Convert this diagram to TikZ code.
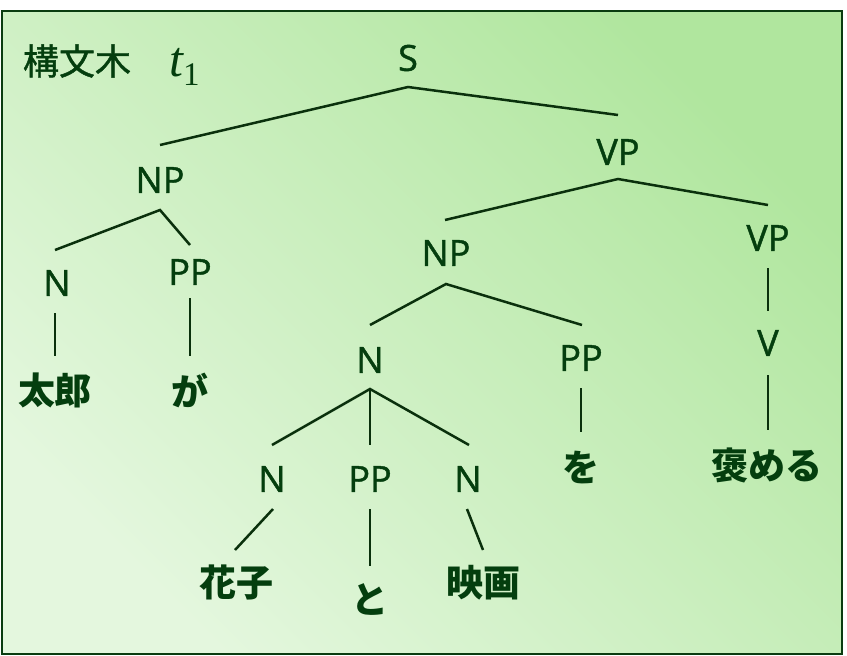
\documentclass[tikz,border=0pt]{standalone}
\usepackage{fontspec}
\setmainfont{Open Sans}
\newfontfamily\labfont{Open Sans}[FakeBold=1.2]
\newfontfamily\jpfont{Noto Sans CJK JP}
\newfontfamily\jptitle{Noto Sans CJK JP}[FakeBold=1.2]
\newfontfamily\serifit{Liberation Serif}
\definecolor{txt}{RGB}{4,62,14}
\definecolor{ln}{RGB}{10,48,12}
\definecolor{framec}{RGB}{10,60,16}
\definecolor{bgdark}{RGB}{176,230,158}
\definecolor{bglight}{RGB}{228,247,222}
\begin{document}
\begin{tikzpicture}[x=1pt,y=-1pt,
  lab/.style={text=txt,font=\labfont\fontsize{36}{40}\selectfont,inner sep=0pt},
  word/.style={text=txt,font=\jpfont\bfseries\fontsize{37}{40}\selectfont,inner sep=0pt},
  edgeline/.style={draw=ln,line width=2.5pt}]
\useasboundingbox (0,0) rectangle (847,656);
\shade[shading=axis, top color=bgdark, bottom color=bglight, shading angle=-45] (2,11) rectangle (842,654);
\draw[framec, line width=2.5pt] (2,11) rectangle (842,654);

% title
\node[text=txt,font=\jptitle\fontsize{36}{40}\selectfont,inner sep=0pt] (title) at (77,61) {構文木};
\node[text=txt,inner sep=0pt,anchor=base west] (tone) at (169,76) {\serifit\itshape\fontsize{50}{54}\selectfont t\raisebox{-9pt}{\upshape\fontsize{33}{36}\selectfont 1}};

% labels
\node[lab] (S) at (408,58) {S};
\node[lab] (NP1) at (160,180) {NP};
\node[lab] (VP1) at (618,152) {VP};
\node[lab] (N1) at (57,283) {N};
\node[lab] (PP1) at (190,272) {PP};
\node[lab] (NP2) at (446,253) {NP};
\node[lab] (VP2) at (768,238) {VP};
\node[lab] (N2) at (370,360) {N};
\node[lab] (PP2) at (581,358) {PP};
\node[lab] (V) at (768,343) {V};
\node[lab] (N3) at (272,479) {N};
\node[lab] (PP3) at (370,479) {PP};
\node[lab] (N4) at (468,479) {N};

% words
\node[word] (taro) at (55,390) {太郎};
\node[word] (ga) at (190,390) {が};
\node[word] (wo) at (581,468) {を};
\node[word] (homeru) at (767,465) {褒める};
\node[word] (hanako) at (236,583) {花子};
\node[word] (to) at (370,600) {と};
\node[word] (eiga) at (483,583) {映画};

% connector end points
\coordinate (S-a) at (408,87);
\coordinate (NP1-t) at (160,145);
\coordinate (VP1-t) at (618,115);
\coordinate (NP1-a) at (160,210);
\coordinate (N1-t) at (55,250);
\coordinate (PP1-t) at (190,245);
\coordinate (VP1-a) at (618,179);
\coordinate (NP2-t) at (445,220);
\coordinate (VP2-t) at (768,205);
\coordinate (N1-b) at (55,313);
\coordinate (taro-t) at (55,356);
\coordinate (PP1-b) at (190,298);
\coordinate (ga-t) at (190,356);
\coordinate (NP2-a) at (446,284);
\coordinate (N2-t) at (370,325);
\coordinate (PP2-t) at (582,325);
\coordinate (VP2-b) at (768,268);
\coordinate (V-t) at (768,311);
\coordinate (N2-a) at (370,389);
\coordinate (N3-t) at (272,445);
\coordinate (PP3-t) at (370,445);
\coordinate (N4-t) at (469,445);
\coordinate (PP2-b) at (581,388);
\coordinate (wo-t) at (581,432);
\coordinate (V-b) at (768,375);
\coordinate (homeru-t) at (768,430);
\coordinate (N3-b) at (273,509);
\coordinate (hanako-t) at (235,550);
\coordinate (PP3-b) at (370,509);
\coordinate (to-t) at (370,566);
\coordinate (N4-b) at (467,509);
\coordinate (eiga-t) at (483,550);

% connectors
\draw[edgeline] (NP1-t) -- (S-a) -- (VP1-t);
\draw[edgeline] (N1-t) -- (NP1-a) -- (PP1-t);
\draw[edgeline] (NP2-t) -- (VP1-a) -- (VP2-t);
\draw[edgeline] (N1-b) -- (taro-t);
\draw[edgeline] (PP1-b) -- (ga-t);
\draw[edgeline] (N2-t) -- (NP2-a) -- (PP2-t);
\draw[edgeline] (VP2-b) -- (V-t);
\draw[edgeline] (N3-t) -- (N2-a) -- (N4-t);
\draw[edgeline] (N2-a) -- (PP3-t);
\draw[edgeline] (PP2-b) -- (wo-t);
\draw[edgeline] (V-b) -- (homeru-t);
\draw[edgeline] (N3-b) -- (hanako-t);
\draw[edgeline] (PP3-b) -- (to-t);
\draw[edgeline] (N4-b) -- (eiga-t);
\end{tikzpicture}
\end{document}
